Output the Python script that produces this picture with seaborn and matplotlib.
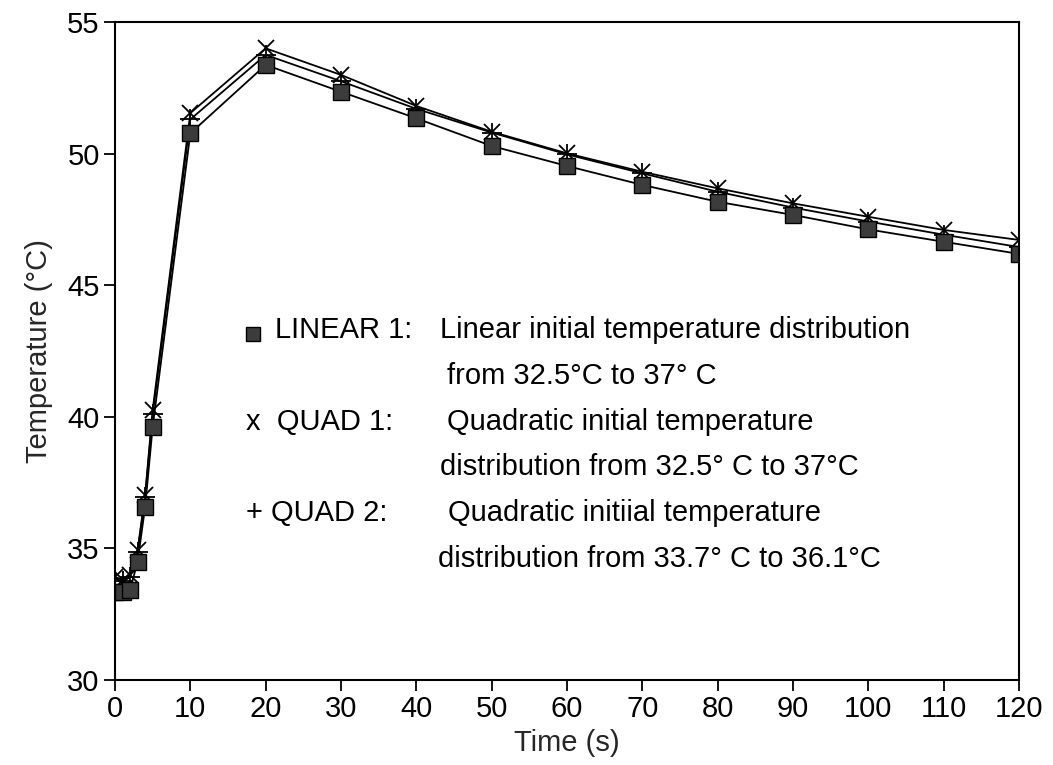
import matplotlib
matplotlib.use("Agg")
import matplotlib.pyplot as plt
import seaborn as sns
import pandas as pd

time_s = [0, 1, 2, 3, 4, 5, 10, 20, 30, 40, 50, 60, 70, 80, 90, 100, 110, 120]
linear1 = [33.35, 33.35, 33.42, 34.5, 36.58, 39.62, 50.77, 53.37, 52.35, 51.34, 50.29, 49.53, 48.81, 48.17, 47.67, 47.12, 46.65, 46.19]
quad1 = [33.92, 33.8, 33.99, 34.94, 37.03, 40.26, 51.54, 54.0, 52.99, 51.81, 50.83, 50.01, 49.31, 48.68, 48.11, 47.6, 47.1, 46.72]
quad2 = [33.85, 33.75, 33.9, 34.85, 36.95, 40.1, 51.3, 53.75, 52.75, 51.7, 50.8, 49.97, 49.25, 48.55, 47.95, 47.42, 46.92, 46.45]

sns.set_style("ticks")
plt.rcParams['font.family'] = ['Liberation Sans', 'DejaVu Sans']

W, H = 1053, 765
fig = plt.figure(figsize=(W / 100, H / 100), dpi=100)
ax = fig.add_axes([115 / W, 1 - 680 / H, (1019 - 115) / W, (680 - 22) / H])

df = pd.DataFrame({"t": time_s, "LINEAR 1": linear1, "QUAD 1": quad1, "QUAD 2": quad2})

sns.lineplot(data=df, x="t", y="QUAD 1", ax=ax, color="black", lw=1.3,
             marker="x", markersize=11, markeredgewidth=1.3, markeredgecolor="black")
sns.lineplot(data=df, x="t", y="QUAD 2", ax=ax, color="black", lw=1.3,
             marker="+", markersize=15, markeredgewidth=1.3, markeredgecolor="black")
sns.lineplot(data=df, x="t", y="LINEAR 1", ax=ax, color="black", lw=1.3,
             marker="s", markersize=11, markerfacecolor="#3c3c3c", markeredgecolor="black",
             markeredgewidth=1.0)

ax.set_xlim(0, 120)
ax.set_ylim(30, 55)
ax.set_xticks(range(0, 121, 10))
ax.set_yticks(range(30, 56, 5))
ax.tick_params(axis="both", labelsize=21, length=8, width=1.3, pad=3,
               direction="out", colors="black")
for s in ax.spines.values():
    s.set_linewidth(1.5)
    s.set_color("black")
ax.set_xlabel("Time (s)", fontsize=21, labelpad=4)
ax.set_ylabel("Temperature (°C)", fontsize=21, labelpad=10)


def px(xp, yp):
    return ((xp - 115) / ((1019 - 115) / 120), 55 - (yp - 22) / ((680 - 22) / 25))


fs = 21
ax.plot(*px(253, 334), marker="s", markersize=9.5, color="#3c3c3c", markeredgecolor="black")
entries = [
    (275, 330, "LINEAR 1:"), (440, 330, "Linear initial temperature distribution"),
    (447, 376, "from 32.5°C to 37° C"),
    (246, 422, "x  QUAD 1:"), (447, 422, "Quadratic initial temperature"),
    (440, 467, "distribution from 32.5° C to 37°C"),
    (246, 513, "+ QUAD 2:"), (448, 513, "Quadratic initiial temperature"),
    (438, 559, "distribution from 33.7° C to 36.1°C"),
]
for xp, yp, txt in entries:
    x, y = px(xp, yp)
    ax.text(x, y, txt, fontsize=fs, ha="left", va="center", color="black")

fig.savefig("out.png", dpi=100)
